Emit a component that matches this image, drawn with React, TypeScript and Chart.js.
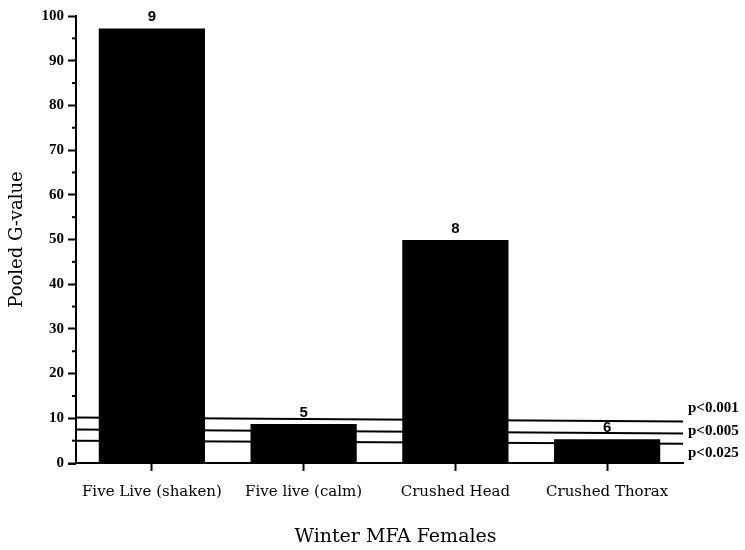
import React, { useEffect, useRef } from "react";
import { Chart, registerables } from "chart.js";

Chart.register(...registerables);

const categories = ["Five Live (shaken)", "Five live (calm)", "Crushed Head", "Crushed Thorax"];
const gValues = [97.2, 8.7, 49.9, 5.3];
const sampleCounts = ["9", "5", "8", "6"];
const yTicks = [0, 10, 20, 30, 40, 50, 60, 70, 80, 90, 100];
const minorTicks = [5, 15, 25, 35, 45, 55, 65, 75, 85, 95];
const pLabels = ["p<0.001", "p<0.005", "p<0.025"];
const pLineStart = [10.2, 7.5, 5.0];
const pLineEnd = [9.3, 6.6, 4.3];
const pLabelOffsets = [-13, -2, 9];
const xTitle = "Winter MFA Females";

const serif = "'DejaVu Serif', serif";

export default function App() {
  const ref = useRef<HTMLCanvasElement | null>(null);

  useEffect(() => {
    if (!ref.current) return;

    const decor = {
      id: "decor",
      beforeDatasetsDraw(chart: any) {
        const ctx = chart.ctx;
        const area = chart.chartArea;
        const y = chart.scales.y;
        ctx.save();
        ctx.strokeStyle = "#000";
        ctx.lineWidth = 2;
        pLabels.forEach((_, i) => {
          ctx.beginPath();
          ctx.moveTo(area.left, y.getPixelForValue(pLineStart[i]));
          ctx.lineTo(area.right, y.getPixelForValue(pLineEnd[i]));
          ctx.stroke();
        });
        ctx.restore();
      },
      afterDatasetsDraw(chart: any) {
        const ctx = chart.ctx;
        const area = chart.chartArea;
        const y = chart.scales.y;
        const x = chart.scales.x;
        ctx.save();
        const meta = chart.getDatasetMeta(0);
        ctx.fillStyle = "#000";
        ctx.font = "bold 15px 'Liberation Sans', sans-serif";
        ctx.textAlign = "center";
        ctx.textBaseline = "bottom";
        meta.data.forEach((el: any, i: number) => {
          ctx.fillText(sampleCounts[i], el.x, el.y - 4);
        });
        ctx.font = "bold 15px 'Liberation Serif', serif";
        ctx.textAlign = "left";
        ctx.textBaseline = "middle";
        pLabels.forEach((t, i) => {
          ctx.fillText(t, area.right + 5, y.getPixelForValue(pLineEnd[i]) + pLabelOffsets[i]);
        });
        // x axis title, placed slightly right of centre as in the original
        ctx.font = "19px " + serif;
        ctx.textAlign = "center";
        ctx.textBaseline = "middle";
        ctx.fillText(xTitle, (area.left + area.right) / 2 + 16, x.bottom - 13);
        ctx.strokeStyle = "#000";
        ctx.lineWidth = 2;
        minorTicks.forEach((v) => {
          const py = y.getPixelForValue(v);
          ctx.beginPath();
          ctx.moveTo(area.left - 4, py);
          ctx.lineTo(area.left, py);
          ctx.stroke();
        });
        const y0 = y.getPixelForValue(0);
        ctx.beginPath();
        ctx.moveTo(area.left - 8, y0 + 1);
        ctx.lineTo(area.left, y0 + 1);
        ctx.stroke();
        ctx.restore();
      },
    };

    const chart = new Chart(ref.current, {
      type: "bar",
      data: {
        labels: categories,
        datasets: [
          {
            label: "Pooled G-value",
            data: gValues,
            backgroundColor: "#000",
            borderWidth: 0,
            barPercentage: 0.7,
            categoryPercentage: 1,
          },
        ],
      },
      options: {
        animation: false,
        responsive: false,
        maintainAspectRatio: false,
        layout: { padding: { left: 0, right: 62, top: 16, bottom: 0 } },
        plugins: { legend: { display: false }, tooltip: { enabled: false } },
        scales: {
          x: {
            type: "category",
            afterFit: (s: any) => {
              s.height = 87;
            },
            border: { display: true, color: "#000", width: 2 },
            grid: {
              display: true,
              drawOnChartArea: false,
              drawTicks: true,
              tickLength: 8,
              tickColor: "#000",
              tickWidth: 2,
              offset: false,
            },
            ticks: {
              color: "#000",
              font: { family: serif, size: 15 },
              padding: 12,
              maxRotation: 0,
              autoSkip: false,
            },
            title: { display: false },
          },
          y: {
            min: 0,
            max: 100,
            afterFit: (s: any) => {
              s.width = 76;
            },
            afterBuildTicks: (s: any) => {
              s.ticks = yTicks.map((v) => ({ value: v }));
            },
            border: { display: true, color: "#000", width: 2 },
            grid: {
              display: true,
              drawOnChartArea: false,
              drawTicks: true,
              tickLength: 8,
              tickColor: "#000",
              tickWidth: 2,
            },
            ticks: {
              color: "#000",
              font: { family: "'Liberation Serif', serif", size: 15, weight: "bold" },
              padding: 4,
            },
            title: {
              display: true,
              text: "Pooled G-value",
              color: "#000",
              font: { family: serif, size: 18 },
              padding: { top: 7, bottom: 0 },
            },
          },
        },
      },
      plugins: [decor],
    } as any);

    return () => chart.destroy();
  }, []);

  return (
    <div style={{ position: "fixed", left: 0, top: 0, width: 745, height: 550, background: "#fff" }}>
      <canvas ref={ref} width={745} height={550} style={{ display: "block", width: 745, height: 550 }} />
    </div>
  );
}
